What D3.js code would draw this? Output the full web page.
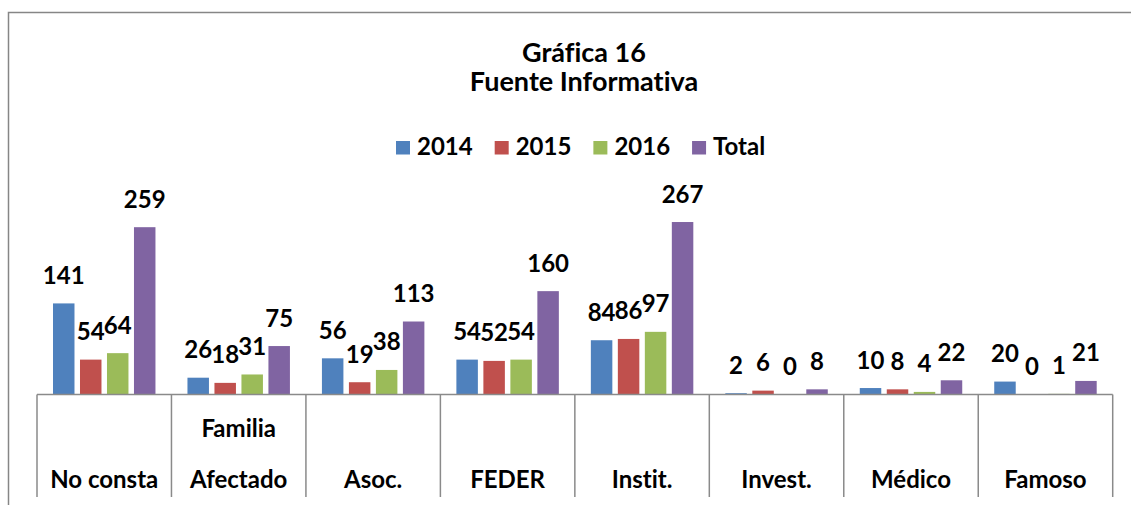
<!DOCTYPE html>
<html lang="es">
<head>
<meta charset="UTF-8">
<title>Gráfica 16 - Fuente Informativa</title>
<script src="https://d3js.org/d3.v7.min.js"></script>
<style>
    body { margin: 0; background: #fff; }
    svg text {
        font-family: "Lato", "Open Sans", sans-serif;
        font-weight: bold;
        fill: #000;
        font-variant-ligatures: none;
    }
</style>
</head>
<body>
<div id="chart"></div>
<script>
    // data
    const categories = [["No consta"], ["Familia", "Afectado"], ["Asoc."], ["FEDER"],
                        ["Instit."], ["Invest."], ["Médico"], ["Famoso"]];
    const seriesNames = ["2014", "2015", "2016", "Total"];
    const v2014 = [141, 26, 56, 54, 84, 2, 10, 20];
    const v2015 = [54, 18, 19, 52, 86, 6, 8, 0];
    const v2016 = [64, 31, 38, 54, 97, 0, 4, 1];
    const vTotal = [259, 75, 113, 160, 267, 8, 22, 21];
    const colors = ["#4F81BD", "#C0504D", "#9BBB59", "#8064A2"];

    const values = [v2014, v2015, v2016, vTotal];
    const width = 1131, height = 505;

    const svg = d3.select("#chart").append("svg")
        .attr("width", width)
        .attr("height", height);

    // chart area border (cut off at right and bottom like the original)
    svg.append("rect")
        .attr("x", 8.5).attr("y", 12.5)
        .attr("width", 1200).attr("height", 600)
        .attr("fill", "none")
        .attr("stroke", "#868686")
        .attr("stroke-width", 1.5);

    const x0 = d3.scaleBand()
        .domain(d3.range(categories.length))
        .range([37, 1112.7]);

    const x1 = d3.scaleBand()
        .domain(seriesNames)
        .range([16, x0.bandwidth() - 16])
        .paddingInner(0.204);

    const y = d3.scaleLinear()
        .domain([0, 300])
        .range([394.5, 200.7]);

    const color = d3.scaleOrdinal().domain(seriesNames).range(colors);

    // title
    const title = svg.append("text")
        .attr("text-anchor", "middle")
        .style("font-size", "27px");
    title.append("tspan").attr("x", 584).attr("y", 61.5).text("Gráfica 16");
    title.append("tspan").attr("x", 584).attr("y", 90.5).text("Fuente Informativa");

    // legend
    const legend = svg.append("g").attr("transform", "translate(396,0)");
    let lx = 0;
    seriesNames.forEach(s => {
        const item = legend.append("g").attr("transform", `translate(${lx},0)`);
        item.append("rect")
            .attr("x", 0).attr("y", 141)
            .attr("width", 14).attr("height", 13.5)
            .attr("fill", color(s));
        const t = item.append("text")
            .attr("x", 21).attr("y", 155)
            .style("font-size", "24px")
            .text(s);
        lx += 21 + t.node().getComputedTextLength() + 22;
    });

    // bars
    const groups = svg.selectAll(".cat")
        .data(categories.map((c, i) => i))
        .enter().append("g")
        .attr("class", "cat")
        .attr("transform", i => `translate(${x0(i)},0)`);

    const cells = groups.selectAll(".bar")
        .data(i => seriesNames.map((s, k) => ({ s: s, v: values[k][i] })))
        .enter();

    cells.append("rect")
        .attr("class", "bar")
        .attr("x", d => x1(d.s))
        .attr("y", d => y(d.v))
        .attr("width", x1.bandwidth())
        .attr("height", d => y(0) - y(d.v))
        .attr("fill", d => color(d.s));

    cells.append("text")
        .attr("x", d => x1(d.s) + x1.bandwidth() / 2)
        .attr("y", d => y(d.v) - 19.5)
        .attr("text-anchor", "middle")
        .style("font-size", "24px")
        .text(d => d.v);

    // category axis: baseline, separators, labels
    const axisColor = "#8a8a8a";
    svg.append("line")
        .attr("x1", x0.range()[0]).attr("x2", x0.range()[1])
        .attr("y1", y(0)).attr("y2", y(0))
        .attr("stroke", axisColor).attr("stroke-width", 1.5);

    const seps = d3.range(categories.length).map(i => x0(i)).concat([x0.range()[1]]);
    svg.selectAll(".sep")
        .data(seps)
        .enter().append("line")
        .attr("class", "sep")
        .attr("x1", d => d).attr("x2", d => d)
        .attr("y1", y(0)).attr("y2", 497)
        .attr("stroke", axisColor).attr("stroke-width", 1.5);

    const labels = groups.append("text")
        .attr("text-anchor", "middle")
        .style("font-size", "24px");
    labels.selectAll("tspan")
        .data(i => categories[i].map((line, k, arr) => ({ line: line, k: k, n: arr.length })))
        .enter().append("tspan")
        .attr("x", x0.bandwidth() / 2)
        .attr("y", d => 488 - (d.n - 1 - d.k) * 51.5)
        .text(d => d.line);
</script>
</body>
</html>
